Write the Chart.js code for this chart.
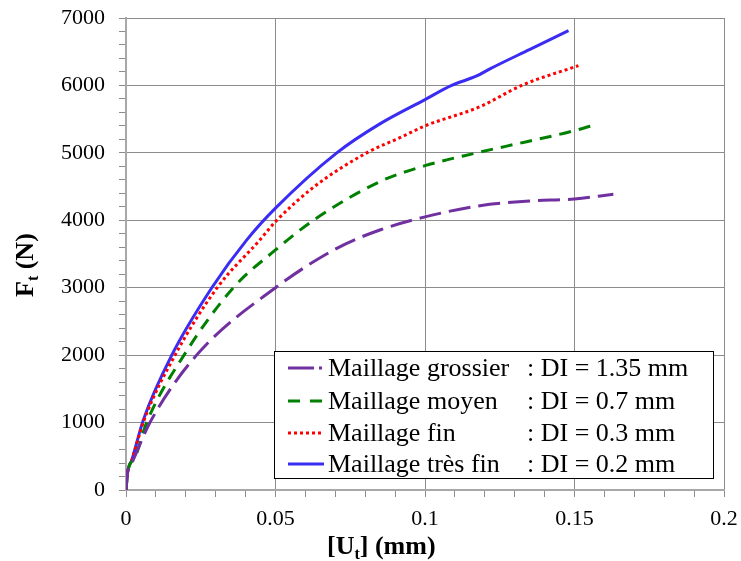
<!DOCTYPE html>
<html>
<head>
<meta charset="utf-8">
<script src="https://cdn.jsdelivr.net/npm/chart.js@4"></script>
<style>
  body { margin: 0; background: #fff; }
  #wrap { width: 741px; height: 561px; }
</style>
</head>
<body>
<div id="wrap"><canvas id="chart" width="741" height="561"></canvas></div>
<script>
// ── Data ────────────────────────────────────────────────────
const seriesNames = ["Maillage grossier", "Maillage moyen", "Maillage fin", "Maillage très fin"];
const seriesDI = [": DI = 1.35 mm", ": DI = 0.7 mm", ": DI = 0.3 mm", ": DI = 0.2 mm"];

const uGrossier = [0, 0.0005, 0.0024, 0.008, 0.0236, 0.05, 0.0705, 0.0849, 0.1, 0.1184, 0.1351, 0.15, 0.163];
const fGrossier = [0, 250, 445, 1000, 2000, 3000, 3584, 3856, 4050, 4217, 4286, 4316, 4385];

const uMoyen = [0, 0.0005, 0.003, 0.0069, 0.0194, 0.0359, 0.05, 0.0627, 0.0849, 0.1, 0.1173, 0.134, 0.15, 0.1577];
const fMoyen = [0, 250, 480, 1000, 2000, 3000, 3560, 4000, 4573, 4810, 5000, 5166, 5329, 5428];

const uFin = [0, 0.0005, 0.002, 0.006, 0.0164, 0.0305, 0.0448, 0.05, 0.063, 0.0805, 0.0916, 0.1, 0.1184, 0.1323, 0.1513];
const fFin = [0, 250, 450, 1030, 2000, 3000, 3710, 3980, 4500, 5000, 5225, 5400, 5685, 6000, 6293];

const uTresFin = [0, 0.0005, 0.002, 0.0058, 0.0153, 0.0287, 0.0404, 0.05, 0.0705, 0.0849, 0.1, 0.1089, 0.1173, 0.1217, 0.1351, 0.148];
const fTresFin = [0, 250, 450, 1040, 2000, 3000, 3710, 4180, 5000, 5430, 5790, 6000, 6140, 6245, 6535, 6812];

const xMin = 0, xMax = 0.2, xMinorStep = 0.01, xMajorStep = 0.05;
const yMin = 0, yMax = 7000, yMinorStep = 200, yMajorStep = 1000;

const toPoints = (xs, ys) => xs.map((x, i) => ({ x: x, y: ys[i] }));

const GRID = "#8c8c8c";
const SERIF = "'Liberation Serif', 'Times New Roman', serif";

// ── Legend + axis titles drawn on the canvas ────────────────
const overlayPlugin = {
  id: "overlay",
  afterDraw(chart) {
    const ctx = chart.ctx;
    ctx.save();

    // legend box
    const box = { left: 274, top: 351, right: 713, bottom: 478 };
    ctx.fillStyle = "#fff";
    ctx.fillRect(box.left, box.top, box.right - box.left, box.bottom - box.top);
    ctx.strokeStyle = "#000";
    ctx.lineWidth = 1;
    ctx.setLineDash([]);
    ctx.strokeRect(box.left + 0.5, box.top + 0.5, box.right - box.left, box.bottom - box.top);

    const rows = [368, 401, 433, 464];
    chart.data.datasets.forEach((ds, i) => {
      const y = rows[i];
      ctx.strokeStyle = ds.borderColor;
      ctx.lineWidth = 3;
      ctx.setLineDash(ds.legendDash || []);
      ctx.beginPath();
      ctx.moveTo(288, y);
      ctx.lineTo(324, y);
      ctx.stroke();
      ctx.setLineDash([]);

      ctx.fillStyle = "#000";
      ctx.font = "26px " + SERIF;
      ctx.textBaseline = "middle";
      ctx.textAlign = "left";
      ctx.fillText(seriesNames[i], 328, y + 1);
      ctx.fillText(seriesDI[i], 527, y + 1);
    });

    // x axis title: [Ut] (mm)
    ctx.fillStyle = "#000";
    ctx.textBaseline = "alphabetic";
    let x = 327;
    const xb = 554;
    ctx.font = "bold 26px " + SERIF;
    ctx.fillText("[U", x, xb);
    x += ctx.measureText("[U").width;
    ctx.font = "bold 16px " + SERIF;
    ctx.fillText("t", x, xb + 5);
    x += ctx.measureText("t").width;
    ctx.font = "bold 26px " + SERIF;
    ctx.fillText("] (mm)", x, xb);

    // y axis title: Ft (N)
    ctx.translate(33, 297);
    ctx.rotate(-Math.PI / 2);
    let t = 0;
    ctx.font = "bold 26px " + SERIF;
    ctx.fillText("F", t, 0);
    t += ctx.measureText("F").width;
    ctx.font = "bold 16px " + SERIF;
    ctx.fillText("t", t, 5);
    t += ctx.measureText("t").width;
    ctx.font = "bold 26px " + SERIF;
    ctx.fillText(" (N)", t, 0);

    ctx.restore();
  }
};

const isMajor = (v, step) => Math.abs(v / step - Math.round(v / step)) < 1e-6;

const ctx = document.getElementById("chart").getContext("2d");
new Chart(ctx, {
  type: "line",
  data: {
    datasets: [
      {
        label: seriesNames[0],
        data: toPoints(uGrossier, fGrossier),
        borderColor: "#7030a0",
        borderDash: [22, 8],
        legendDash: [26, 5, 3, 100]
      },
      {
        label: seriesNames[1],
        data: toPoints(uMoyen, fMoyen),
        borderColor: "#008000",
        borderDash: [12, 8],
        legendDash: [12, 10]
      },
      {
        label: seriesNames[2],
        data: toPoints(uFin, fFin),
        borderColor: "#ff0000",
        borderDash: [3, 3],
        legendDash: [3, 3]
      },
      {
        label: seriesNames[3],
        data: toPoints(uTresFin, fTresFin),
        borderColor: "#3a2cf2",
        borderDash: [],
        legendDash: []
      }
    ]
  },
  options: {
    responsive: false,
    animation: false,
    layout: { padding: { top: 18, right: 17, left: 0, bottom: 0 } },
    elements: {
      point: { radius: 0 },
      line: { borderWidth: 3, cubicInterpolationMode: "monotone", fill: false }
    },
    plugins: { legend: { display: false }, tooltip: { enabled: false } },
    scales: {
      x: {
        type: "linear",
        min: xMin,
        max: xMax,
        afterFit: (s) => { s.height = 71; s.paddingLeft = 0; s.paddingRight = 0; },
        ticks: {
          stepSize: xMinorStep,
          autoSkip: false,
          maxRotation: 0,
          padding: 9,
          color: "#000",
          font: { family: SERIF, size: 22 },
          callback: (v) => isMajor(v, xMajorStep) ? String(Math.round(v * 100) / 100) : ""
        },
        grid: {
          color: (c) => isMajor(c.tick.value, xMajorStep) ? GRID : "rgba(0,0,0,0)",
          tickColor: GRID,
          tickLength: 7,
          lineWidth: 1
        },
        border: { color: "#a8a8a8", width: 2 }
      },
      y: {
        type: "linear",
        min: yMin,
        max: yMax,
        afterFit: (s) => { s.width = 126; s.paddingTop = 0; s.paddingBottom = 0; },
        ticks: {
          stepSize: yMinorStep,
          autoSkip: false,
          padding: 14,
          color: "#000",
          font: { family: SERIF, size: 22 },
          callback: (v) => isMajor(v, yMajorStep) ? String(v) : ""
        },
        grid: {
          color: (c) => isMajor(c.tick.value, yMajorStep) ? GRID : "rgba(0,0,0,0)",
          tickColor: GRID,
          tickLength: 7,
          lineWidth: 1
        },
        border: { color: "#a8a8a8", width: 2 }
      }
    }
  },
  plugins: [overlayPlugin]
});
</script>
</body>
</html>
